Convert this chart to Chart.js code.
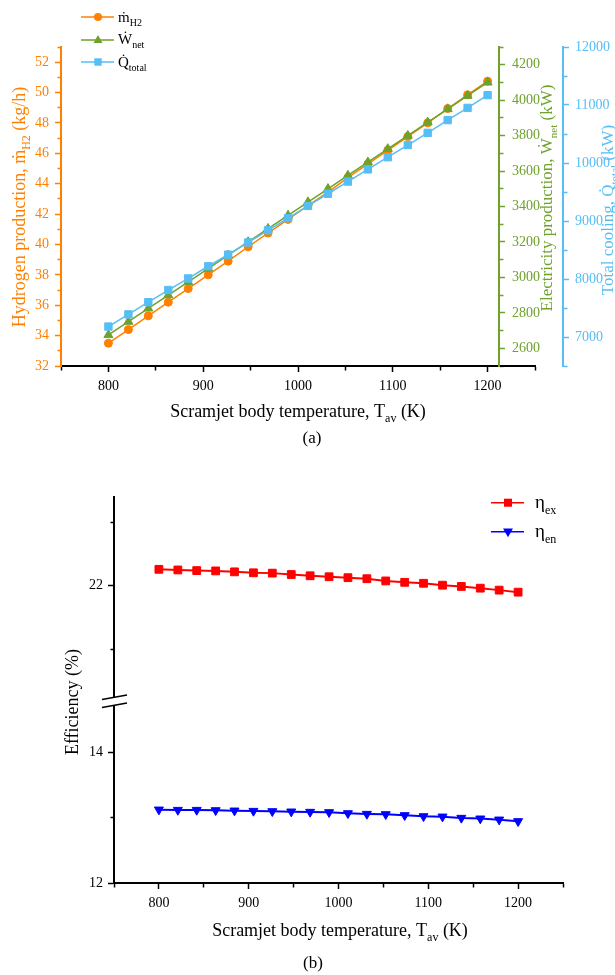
<!DOCTYPE html>
<html lang="en">
<head>
    <meta charset="UTF-8">
    <title>Scramjet body temperature</title>
    <script src="https://cdn.jsdelivr.net/npm/chart.js"></script>
    <style>
        body {
            margin: 0;
            background: #fff;
        }
        #wrap {
            position: relative;
            width: 615px;
            height: 975px;
        }
        canvas {
            position: absolute;
            left: 0;
        }
        #chartA { top: 0; }
        #chartB { top: 455px; }
    </style>
</head>
<body>
<div id="wrap">
    <canvas id="chartA" width="615" height="455"></canvas>
    <canvas id="chartB" width="615" height="520"></canvas>
</div>

<script>
    // body temperature, K (20 points between 800 and 1200)
    const tempK = [800, 821.1, 842.1, 863.2, 884.2, 905.3, 926.3, 947.4, 968.4, 989.5,
                   1010.5, 1031.6, 1052.6, 1073.7, 1094.7, 1115.8, 1136.8, 1157.9, 1178.9, 1200];

    // (a) hydrogen production, kg/h
    const h2Rate = [33.5, 34.4, 35.3, 36.2, 37.1, 38.0, 38.9, 39.85, 40.75, 41.65,
                    42.55, 43.45, 44.4, 45.3, 46.2, 47.1, 48.0, 48.95, 49.85, 50.75];
    // (a) net electricity, kW
    const netPower = [2675, 2750, 2825, 2900, 2975, 3050, 3125, 3200, 3275, 3350,
                      3425, 3500, 3575, 3650, 3725, 3800, 3875, 3950, 4025, 4100];
    // (a) total cooling, kW
    const totalCooling = [7180, 7390, 7600, 7810, 8010, 8220, 8420, 8630, 8840, 9050,
                          9260, 9470, 9680, 9890, 10100, 10310, 10520, 10740, 10950, 11170];

    // (b) efficiencies, %
    const exergyEff = [22.26, 22.25, 22.24, 22.235, 22.22, 22.205, 22.2, 22.178, 22.158, 22.143,
                       22.128, 22.112, 22.077, 22.055, 22.04, 22.01, 21.99, 21.963, 21.932, 21.90];
    const energyEff = [13.122, 13.117, 13.117, 13.112, 13.107, 13.102, 13.097, 13.092, 13.087, 13.082,
                       13.066, 13.056, 13.051, 13.036, 13.020, 13.015, 12.995, 12.985, 12.969, 12.944];

    const SERIF = '"Liberation Serif", "Times New Roman", serif';
    const ORANGE = '#FF8000';
    const GREEN = '#6EA22B';
    const BLUE = '#56BEF5';
    const TL = 6;      // major tick length
    const MINOR = 3.5; // minor tick length

    function pts(ys) {
        return tempK.map((t, i) => ({ x: t, y: ys[i] }));
    }

    // minor ticks drawn shorter with a dash; left axes draw ticks from the outside in
    function tickDash(step, fromOutside) {
        return ctx => {
            if (!ctx.tick || Math.abs(ctx.tick.value % step) < 1e-6) return [];
            return fromOutside ? [0, TL - MINOR, MINOR, 30] : [MINOR, 30];
        };
    }

    function axisGrid(color, step, fromOutside) {
        return {
            display: true,
            drawOnChartArea: false,
            drawTicks: true,
            tickLength: TL,
            tickWidth: 1.5,
            tickColor: color,
            tickBorderDash: tickDash(step, fromOutside)
        };
    }

    function labelEvery(step) {
        return v => Math.abs(v % step) < 1e-6 ? String(v) : '';
    }

    function tickOpts(color, stepSize, labelStep, padding) {
        return {
            stepSize: stepSize, includeBounds: false, autoSkip: false, maxRotation: 0,
            padding: padding, color: color, font: { family: SERIF, size: 14 },
            callback: labelEvery(labelStep)
        };
    }

    // text with subscripts: parts = [[text, isSub], ...]
    function drawRich(ctx, parts, x, y, size, color, rotate, align) {
        const sub = Math.round(size * 0.65);
        const font = s => s + 'px ' + SERIF;
        ctx.save();
        ctx.translate(x, y);
        if (rotate) ctx.rotate(rotate);
        ctx.fillStyle = color;
        ctx.textAlign = 'left';
        ctx.textBaseline = 'alphabetic';
        let w = 0;
        parts.forEach(p => { ctx.font = font(p[1] ? sub : size); w += ctx.measureText(p[0]).width; });
        let cx = align === 'left' ? 0 : -w / 2;
        parts.forEach(p => {
            ctx.font = font(p[1] ? sub : size);
            ctx.fillText(p[0], cx, p[1] ? size * 0.28 : 0);
            cx += ctx.measureText(p[0]).width;
        });
        ctx.restore();
    }

    function legendMark(ctx, x, y, color, shape, r) {
        ctx.save();
        ctx.strokeStyle = color;
        ctx.fillStyle = color;
        ctx.lineWidth = 1.5;
        ctx.beginPath();
        ctx.moveTo(x - 17, y);
        ctx.lineTo(x + 16, y);
        ctx.stroke();
        ctx.beginPath();
        if (shape === 'circle') {
            ctx.arc(x, y, r, 0, Math.PI * 2);
        } else if (shape === 'rect') {
            ctx.rect(x - r, y - r, 2 * r, 2 * r);
        } else {
            const d = shape === 'down' ? -1 : 1;
            ctx.moveTo(x, y - d * r);
            ctx.lineTo(x + r * 0.9, y + d * r * 0.6);
            ctx.lineTo(x - r * 0.9, y + d * r * 0.6);
            ctx.closePath();
        }
        ctx.fill();
        ctx.restore();
    }

    // ---------- (a) ----------
    const textA = {
        id: 'textA',
        afterLayout(chart) {
            // the W_net axis stands inside the x range, at about 1213 K;
            // keep the box wide enough so its labels are not clipped
            const g = chart.scales.yW;
            const px = chart.scales.x.getPixelForValue(1212);
            g.left = px;
            g.right = px + 48;
        },
        afterDraw(chart) {
            const ctx = chart.ctx;
            drawRich(ctx, [['Hydrogen production, ṁ', 0], ['H2', 1], [' (kg/h)', 0]], 25, 207, 18, ORANGE, -Math.PI / 2);
            drawRich(ctx, [['Electricity production, Ẇ', 0], ['net', 1], [' (kW)', 0]], 552, 198, 17, GREEN, -Math.PI / 2);
            drawRich(ctx, [['Total cooling, Q\u0307', 0], ['total', 1], [' (kW)', 0]], 613, 210, 17, BLUE, -Math.PI / 2);
            drawRich(ctx, [['Scramjet body temperature, T', 0], ['av', 1], [' (K)', 0]], 298, 417, 18, '#000');
            drawRich(ctx, [['(a)', 0]], 312, 443, 17, '#000');

            legendMark(ctx, 98, 17, ORANGE, 'circle', 4);
            legendMark(ctx, 98, 40, GREEN, 'up', 5);
            legendMark(ctx, 98, 62, BLUE, 'rect', 3.7);
            drawRich(ctx, [['ṁ', 0], ['H2', 1]], 118, 21.5, 15, '#000', 0, 'left');
            drawRich(ctx, [['Ẇ', 0], ['net', 1]], 118, 44, 15, '#000', 0, 'left');
            drawRich(ctx, [['Q\u0307', 0], ['total', 1]], 118, 66.5, 15, '#000', 0, 'left');
        }
    };

    new Chart(document.getElementById('chartA'), {
        type: 'line',
        data: {
            datasets: [
                {
                    label: 'mH2', data: pts(h2Rate), yAxisID: 'yH',
                    borderColor: ORANGE, backgroundColor: ORANGE, borderWidth: 1.5,
                    pointStyle: 'circle', pointRadius: 4, pointBorderWidth: 1, order: 3
                },
                {
                    label: 'Wnet', data: pts(netPower), yAxisID: 'yW',
                    borderColor: GREEN, backgroundColor: GREEN, borderWidth: 1.5,
                    pointStyle: 'triangle', pointRadius: 5.2, pointBorderWidth: 1, order: 2
                },
                {
                    label: 'Qtotal', data: pts(totalCooling), yAxisID: 'yQ',
                    borderColor: BLUE, backgroundColor: BLUE, borderWidth: 1.5,
                    pointStyle: 'rect', pointRadius: 5.2, pointBorderWidth: 1, order: 1
                }
            ]
        },
        options: {
            responsive: false,
            animation: false,
            layout: { padding: { top: 47, left: 0, right: 0, bottom: 0 } },
            plugins: { legend: { display: false }, tooltip: { enabled: false } },
            scales: {
                x: {
                    type: 'linear', position: 'bottom', min: 750, max: 1250,
                    afterFit: s => { s.height = 89; },
                    border: { color: '#000', width: 2 },
                    grid: axisGrid('#000', 100, false),
                    ticks: tickOpts('#000', 50, 100, 6)
                },
                yH: {
                    type: 'linear', position: 'left', min: 32, max: 53,
                    afterFit: s => { s.width = 61; },
                    border: { color: ORANGE, width: 2 },
                    grid: axisGrid(ORANGE, 2, true),
                    ticks: tickOpts(ORANGE, 1, 2, 6)
                },
                yW: {
                    type: 'linear', position: 'right', min: 2500, max: 4300,
                    afterFit: s => { s.width = 28; },
                    border: { color: GREEN, width: 2 },
                    grid: axisGrid(GREEN, 200, false),
                    ticks: tickOpts(GREEN, 100, 200, 7)
                },
                yQ: {
                    type: 'linear', position: 'right', min: 6500, max: 12000,
                    afterFit: s => { s.width = 52; },
                    border: { color: BLUE, width: 2 },
                    grid: axisGrid(BLUE, 1000, false),
                    ticks: tickOpts(BLUE, 500, 1000, 6)
                }
            }
        },
        plugins: [textA]
    });

    // ---------- (b) ----------
    const textB = {
        id: 'textB',
        afterDraw(chart) {
            const ctx = chart.ctx;
            const up = chart.scales.yU;
            const ax = chart.chartArea.left;
            const yb = up.bottom;

            // axis break marks
            ctx.save();
            ctx.fillStyle = '#fff';
            ctx.beginPath();
            ctx.moveTo(ax - 4, yb - 2);
            ctx.lineTo(ax + 4, yb - 3.5);
            ctx.lineTo(ax + 4, yb + 4.5);
            ctx.lineTo(ax - 4, yb + 6);
            ctx.closePath();
            ctx.fill();
            ctx.strokeStyle = '#000';
            ctx.lineWidth = 1.5;
            ctx.beginPath();
            ctx.moveTo(ax - 12, yb - 0.5);
            ctx.lineTo(ax + 13, yb - 5);
            ctx.moveTo(ax - 12, yb + 7.5);
            ctx.lineTo(ax + 13, yb + 3);
            ctx.stroke();
            ctx.restore();

            drawRich(ctx, [['Efficiency (%)', 0]], 78, 247, 18, '#000', -Math.PI / 2);
            drawRich(ctx, [['Scramjet body temperature, T', 0], ['av', 1], [' (K)', 0]], 340, 481, 18, '#000');
            drawRich(ctx, [['(b)', 0]], 313, 513, 17, '#000');

            legendMark(ctx, 508, 47.7, '#FF0000', 'rect', 4);
            legendMark(ctx, 508, 76.7, '#0000FF', 'down', 5.5);
            drawRich(ctx, [['η', 0], ['ex', 1]], 535, 53.3, 19, '#000', 0, 'left');
            drawRich(ctx, [['η', 0], ['en', 1]], 535, 82.3, 19, '#000', 0, 'left');
        }
    };

    new Chart(document.getElementById('chartB'), {
        type: 'line',
        data: {
            datasets: [
                {
                    label: 'eta_ex', data: pts(exergyEff), yAxisID: 'yU',
                    borderColor: '#FF0000', backgroundColor: '#FF0000', borderWidth: 2,
                    pointStyle: 'rect', pointRadius: 5.5, pointBorderWidth: 1
                },
                {
                    label: 'eta_en', data: pts(energyEff), yAxisID: 'yL',
                    borderColor: '#0000FF', backgroundColor: '#0000FF', borderWidth: 2,
                    pointStyle: 'triangle', pointRotation: 180, pointRadius: 5.2, pointBorderWidth: 1
                }
            ]
        },
        options: {
            responsive: false,
            animation: false,
            layout: { padding: { top: 42, left: 0, right: 52, bottom: 0 } },
            plugins: { legend: { display: false }, tooltip: { enabled: false } },
            scales: {
                x: {
                    type: 'linear', position: 'bottom', min: 750, max: 1250,
                    afterFit: s => { s.height = 92; },
                    border: { color: '#000', width: 2 },
                    grid: axisGrid('#000', 100, false),
                    ticks: tickOpts('#000', 50, 100, 6)
                },
                yU: {
                    type: 'linear', position: 'left', stack: 'eff', stackWeight: 203, weight: 2,
                    min: 20.2, max: 23.4,
                    afterFit: s => { s.width = 114; },
                    border: { color: '#000', width: 2 },
                    grid: axisGrid('#000', 2, true),
                    ticks: tickOpts('#000', 1, 2, 5)
                },
                yL: {
                    type: 'linear', position: 'left', stack: 'eff', stackWeight: 183, weight: 1,
                    min: 12, max: 14.8,
                    afterFit: s => { s.width = 114; },
                    border: { color: '#000', width: 2 },
                    grid: axisGrid('#000', 2, true),
                    ticks: tickOpts('#000', 1, 2, 5)
                }
            }
        },
        plugins: [textB]
    });
</script>
</body>
</html>
